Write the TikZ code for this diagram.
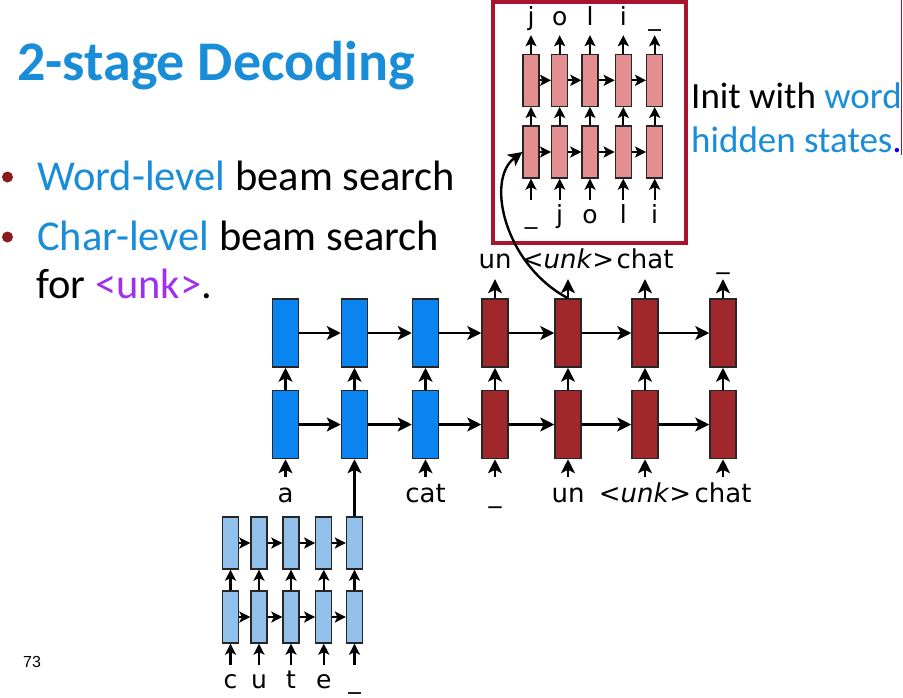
\documentclass[tikz,border=0pt]{standalone}
\usepackage{fontspec}
\setmainfont{Carlito}
\newfontfamily\diagfont{DejaVu Sans}
\newfontfamily\pagefont{Liberation Sans}
\usetikzlibrary{arrows.meta,positioning}
\definecolor{WordBlue}{HTML}{0A84F0}
\definecolor{WordRed}{HTML}{A0282A}
\definecolor{CharBlue}{HTML}{92C1EC}
\definecolor{CharPink}{HTML}{E48F8F}
\definecolor{FrameRed}{HTML}{A8142E}
\definecolor{TitleBlue}{HTML}{1A8DD8}
\definecolor{UnkPurple}{HTML}{A030F0}
\definecolor{BulletRed}{HTML}{8B1A1A}
\tikzset{
  wordbox/.style={draw=black!85, line width=1.5pt, inner sep=0pt, minimum width=26pt, minimum height=68pt},
  bluebox/.style={wordbox, fill=WordBlue},
  redbox/.style={wordbox, fill=WordRed},
  charbox/.style={draw=black!85, line width=1.3pt, inner sep=0pt, minimum width=16pt, minimum height=52pt},
  cbluebox/.style={charbox, fill=CharBlue},
  pinkbox/.style={charbox, fill=CharPink},
  arrow/.style={-{Stealth[length=14pt,width=14pt,inset=3.5pt]}, line width=2.4pt},
  carrow/.style={-{Stealth[length=11pt,width=11pt,inset=2.5pt]}, line width=2.1pt},
  inlabel/.style={font=\diagfont\fontsize{26}{30}\selectfont, anchor=base, inner sep=0pt, text height=25pt},
  outlabel/.style={font=\diagfont\fontsize{26}{30}\selectfont, anchor=base, inner sep=0pt, text depth=11pt},
  cinlabel/.style={font=\diagfont\fontsize{25}{29}\selectfont, anchor=base, inner sep=0pt, text height=23pt},
  coutlabel/.style={font=\diagfont\fontsize{25}{29}\selectfont, anchor=base, inner sep=0pt, text depth=10pt},
  slidetext/.style={anchor=base west, inner sep=0pt, font=\fontsize{42.5}{50}\selectfont},
  inittext/.style={anchor=base west, inner sep=0pt, font=\fontsize{37}{44}\selectfont},
  dot/.style={circle, fill=BulletRed, inner sep=0pt, minimum size=11pt}
}

\begin{document}
\begin{tikzpicture}[x=1pt, y=-1pt]
  \useasboundingbox (0,0) rectangle (903,697);

  % slide text
  \node[anchor=base west, inner sep=0pt, font=\bfseries\fontsize{56}{64}\selectfont, text=TitleBlue] (title) at (17,80) {2-stage Decoding};
  \node[dot] (d1) at (7.5,177) {};
  \node[dot] (d2) at (7.5,237) {};
  \node[slidetext] (l1) at (37,190) {\textcolor{TitleBlue}{Word-level} beam search};
  \node[slidetext] (l2) at (37,250) {\textcolor{TitleBlue}{Char-level} beam search};
  \node[slidetext] (l3) at (36,298) {for \textcolor{UnkPurple}{<unk>}.};
  \node[inittext] (init1) at (691,108) {Init with \textcolor{TitleBlue}{word}};
  \node[inittext] (init2) at (691,152) {\textcolor{TitleBlue}{hidden states}\textcolor{blue}{.}};
  \node[anchor=base west, inner sep=0pt, font=\pagefont\fontsize{16}{19}\selectfont] (page) at (23,667) {73};
  \draw[FrameRed, line width=1.5pt] (901.5,0) -- (901.5,155);

  % word-level decoder
  \foreach \i/\x/\s in {1/285.5/bluebox, 2/354.5/bluebox, 3/425.5/bluebox, 4/495/redbox, 5/568/redbox, 6/645/redbox, 7/723/redbox} {
    \node[\s] (t\i) at (\x,333) {};
    \node[\s] (b\i) at (\x,424.5) {};
    \draw[arrow] (b\i) -- (t\i);
  }
  \foreach \i/\j in {1/2, 2/3, 3/4, 4/5, 5/6, 6/7} {
    \draw[arrow] (t\i) -- (t\j);
    \draw[arrow] (b\i) -- (b\j);
  }
  \foreach \i/\w in {1/a, 3/cat, 4/\_, 5/un, 6/<\textit{unk}>, 7/chat} {
    \node[inlabel] (in\i) at (t\i |- 0,502) {\w};
    \draw[arrow] (in\i) -- (b\i);
  }
  \foreach \i/\w in {4/un, 5/<\textit{unk}>, 6/chat, 7/\_} {
    \node[outlabel] (out\i) at (t\i |- 0,268) {\w};
    \draw[arrow] (t\i) -- (out\i);
  }

  % char-level encoder
  \foreach \i/\x/\w in {1/230.5/c, 2/259/u, 3/291/t, 4/323.8/e, 5/354.5/\_} {
    \node[cbluebox] (ct\i) at (\x,543) {};
    \node[cbluebox] (cb\i) at (\x,617) {};
    \node[cinlabel] (cin\i) at (\x,688) {\w};
    \draw[carrow] (cb\i) -- (ct\i);
    \draw[carrow] (cin\i) -- (cb\i);
  }
  \foreach \i/\j in {1/2, 2/3, 3/4, 4/5} {
    \draw[carrow] (ct\i) -- (ct\j);
    \draw[carrow] (cb\i) -- (cb\j);
  }
  \draw[arrow] (ct5) -- (b2);

  % char-level decoder
  \node[draw=FrameRed, line width=3.5pt, inner sep=0pt, minimum width=193pt, minimum height=241pt] (frame) at (589.5,122.5) {};
  \foreach \i/\x/\u/\w in {1/531/j/\_, 2/559.7/o/j, 3/590/l/o, 4/623.3/i/l, 5/654.7/\_/i} {
    \node[pinkbox] (pt\i) at (\x,80.3) {};
    \node[pinkbox] (pb\i) at (\x,152) {};
    \node[coutlabel] (pout\i) at (\x,25) {\u};
    \node[cinlabel] (pin\i) at (\x,223) {\w};
    \draw[carrow] (pb\i) -- (pt\i);
    \draw[carrow] (pt\i) -- (pout\i);
    \draw[carrow] (pin\i) -- (pb\i);
  }
  \foreach \i/\j in {1/2, 2/3, 3/4, 4/5} {
    \draw[carrow] (pt\i) -- (pt\j);
    \draw[carrow] (pb\i) -- (pb\j);
  }
  \draw[arrow] (t5.north) .. controls (505,265) and (485,180) .. (pb1.west);
\end{tikzpicture}
\end{document}
